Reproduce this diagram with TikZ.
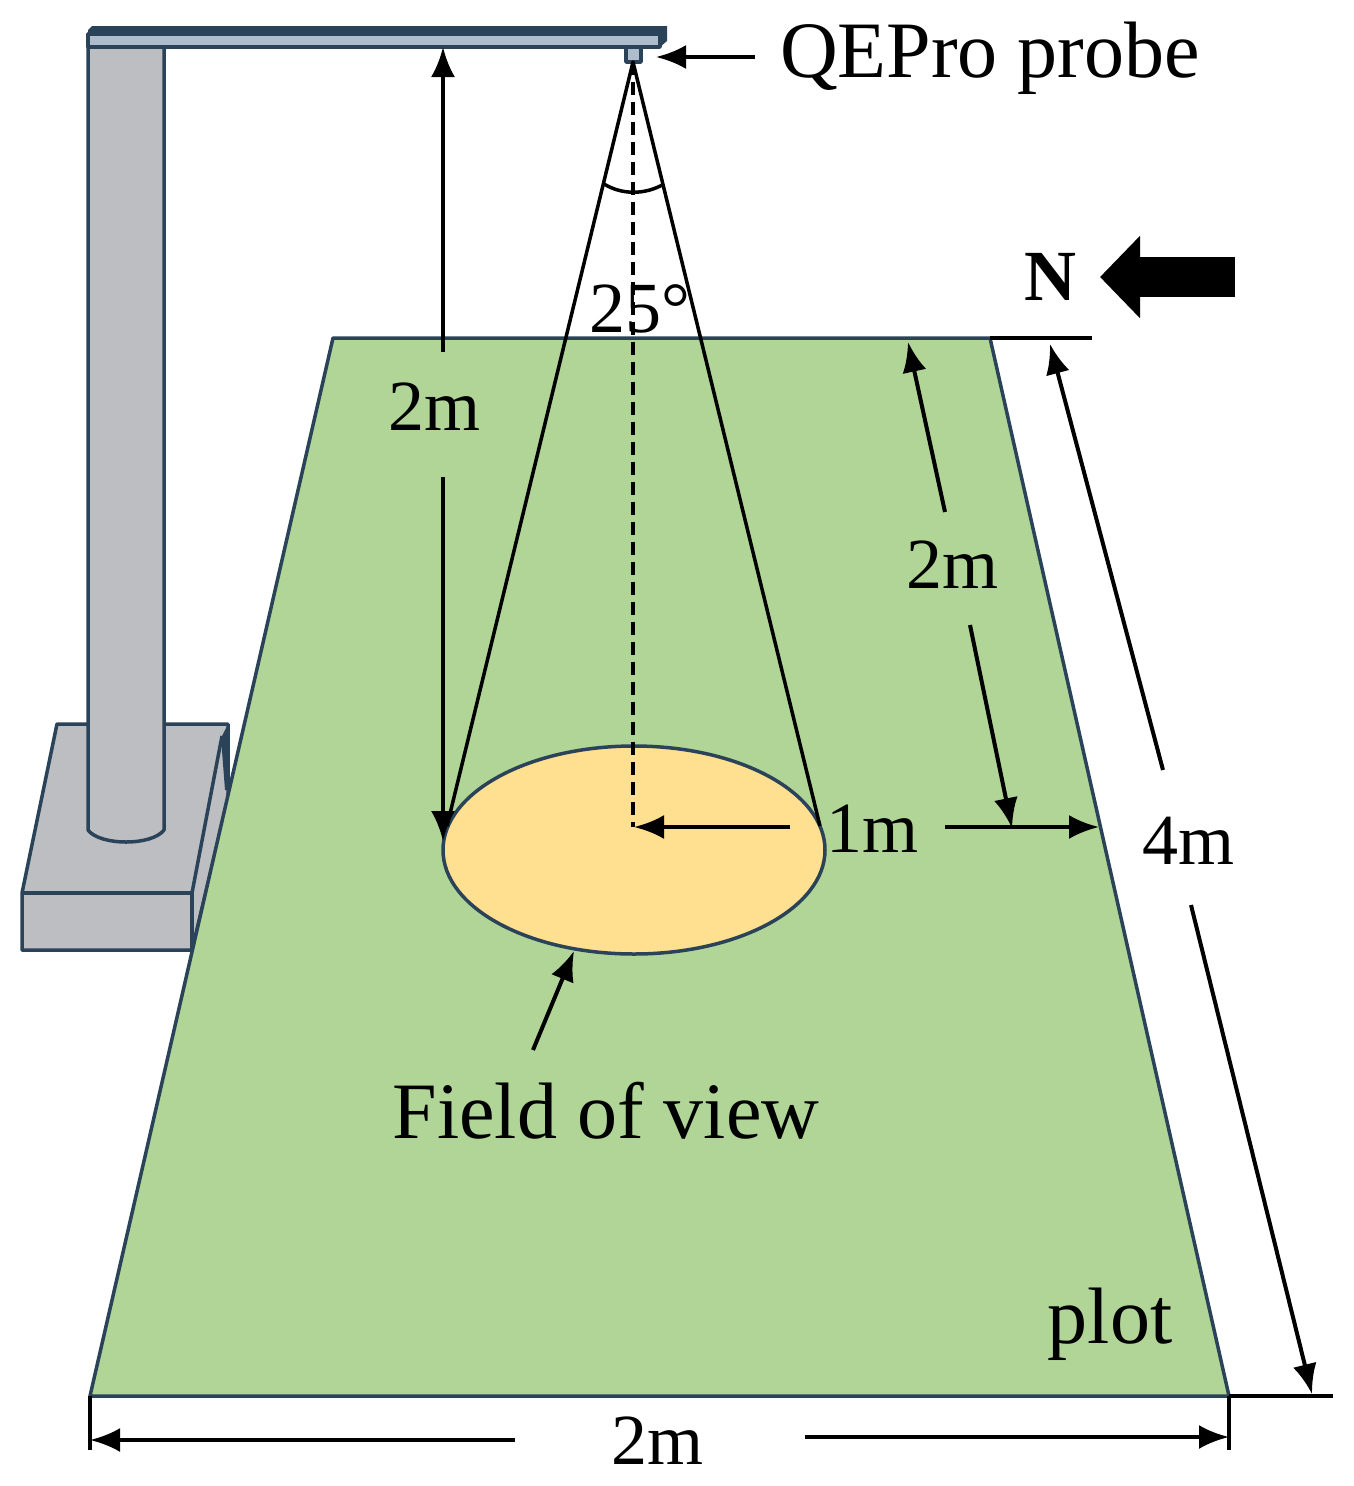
\documentclass[tikz,border=0pt]{standalone}
\usepackage{fontspec}
\setmainfont{Liberation Serif}
\usetikzlibrary{arrows.meta}
\usetikzlibrary{shapes.geometric}
\definecolor{plotgreen}{HTML}{B0D597}
\definecolor{viewyellow}{HTML}{FFDF90}
\definecolor{standgrey}{HTML}{BDBEC2}
\definecolor{edgeblue}{HTML}{2B4358}
\definecolor{beamblue}{HTML}{AEBCCB}
\tikzset{
	label/.style = {inner sep = 0pt, anchor = base, font = \fontsize{80}{90}\selectfont},
	small label/.style = {label, font = \fontsize{72}{80}\selectfont},
	part/.style = {draw = edgeblue, line width = 3.5pt, line join = round},
	dim/.style = {black, line width = 4pt, -{Latex[length = 30pt, width = 24pt]}},
	thin line/.style = {black, line width = 3.5pt}
}

\begin{document}
\begin{tikzpicture}[x = 1pt, y = -1pt]
		\useasboundingbox (0,0) rectangle (1353,1486);
		% stand
		\draw [part, fill = standgrey] (57,724) -- (228,724) -- (228,800) -- (192,950) -- (22,950) -- (22,893) -- cycle;
		\draw [part] (22,893) -- (192,893) -- (192,950);
		\draw [part] (192,893) -- (222,736);
		\fill [edgeblue] (221,738) -- (228,724) -- (229,790) -- (225,790) -- cycle;
		\draw [part, fill = standgrey] (88,40) -- (88,830) .. controls (100,846) and (152,846) .. (164,830) -- (164,40) -- cycle;
		\draw [part, fill = beamblue] (88,47) -- (88,34) -- (660,34) -- (660,47) -- cycle;
		\fill [edgeblue] (88,34) -- (88,30) -- (92,26) -- (667,26) -- (667,41) -- (660,47) -- (660,34) -- cycle;
		\draw [part, fill = beamblue] (626,47) rectangle (641,62);
		%
		\coordinate (A) at (333,338);
		\coordinate (B) at (990,338);
		\coordinate (C) at (1229,1396);
		\coordinate (D) at (90,1396);
		\draw [part, fill = plotgreen] (A) -- (B) -- (C) -- (D) -- cycle;
		%
		\node (fov) [ellipse, part, fill = viewyellow, minimum width = 382pt, minimum height = 208pt, inner sep = 0pt] at (634,850) {};
		\coordinate (apex) at (633,62);
		\coordinate (fovL) at (447,826);
		\coordinate (fovR) at (820,826);
		\coordinate (fovC) at (633,827);
		\draw [thin line, line join = round] (fovL) -- (apex) -- (fovR);
		\draw [thin line, dashed, dash pattern = on 13pt off 7pt] (apex) -- (fovC);
		\coordinate (angL) at (604,184);
		\coordinate (angR) at (664,184);
		\draw [thin line] (angL) .. controls (622,195) and (645,195) .. (angR);
		%
		\node (probe) [label] at (990,77) {QEPro probe};
		\coordinate (probeS) at (755,57);
		\coordinate (probeE) at (656,57);
		\draw [dim] (probeS) -- (probeE);
		%
		\node (hLabel) [small label] at (434,430) {2m};
		\coordinate (hUpS) at (443,352);
		\coordinate (hUpE) at (443,47);
		\coordinate (hDownS) at (443,477);
		\coordinate (hDownE) at (443,841);
		\draw [dim] (hUpS) -- (hUpE);
		\draw [dim] (hDownS) -- (hDownE);
		%
		\node (north) [label, font = \fontsize{72}{80}\selectfont\bfseries] at (1050,300) {N};
		\coordinate (northS) at (1235,277);
		\coordinate (northE) at (1100,277);
		\draw [black, line width = 40pt, -{Triangle[length = 40pt, width = 80pt]}] (northS) -- (northE);
		\coordinate (topEnd) at (1092,338);
		\draw [thin line] (B) -- (topEnd);
		\node (angle) [small label] at (640,332) {25°};
		%
		\node (sideLabel) [small label] at (952,588) {2m};
		\coordinate (sUpS) at (945,512);
		\coordinate (sUpE) at (908,342);
		\coordinate (sDownS) at (970,625);
		\coordinate (sDownE) at (1012,828);
		\draw [dim] (sUpS) -- (sUpE);
		\draw [dim] (sDownS) -- (sDownE);
		%
		\node (radius) [small label] at (872,852) {1m};
		\coordinate (rLeftS) at (790,827);
		\coordinate (rLeftE) at (634,827);
		\coordinate (rRightS) at (945,827);
		\coordinate (rRightE) at (1099,827);
		\draw [dim] (rLeftS) -- (rLeftE);
		\draw [dim] (rRightS) -- (rRightE);
		%
		\node (len) [small label] at (1188,864) {4m};
		\coordinate (lUpS) at (1163,770);
		\coordinate (lUpE) at (1050,344);
		\coordinate (lDownS) at (1191,905);
		\coordinate (lDownE) at (1312,1394);
		\coordinate (botEnd) at (1333,1396);
		\draw [dim] (lUpS) -- (lUpE);
		\draw [dim] (lDownS) -- (lDownE);
		\draw [thin line] (C) -- (botEnd);
		%
		\node (fovLabel) [label] at (606,1138) {Field of view};
		\coordinate (fovS) at (533,1050);
		\coordinate (fovE) at (574,951);
		\draw [dim] (fovS) -- (fovE);
		\node (plot) [label] at (1110,1343) {plot};
		%
		\node (width) [small label] at (657,1464) {2m};
		\coordinate (wLeftS) at (515,1440);
		\coordinate (wLeftE) at (90,1440);
		\coordinate (wRightS) at (805,1437);
		\coordinate (wRightE) at (1229,1437);
		\coordinate (tickL) at (90,1450);
		\coordinate (tickR) at (1229,1450);
		\draw [dim] (wLeftS) -- (wLeftE);
		\draw [dim] (wRightS) -- (wRightE);
		\draw [thin line] (D) -- (tickL);
		\draw [thin line] (C) -- (tickR);
	\end{tikzpicture}
\end{document}
